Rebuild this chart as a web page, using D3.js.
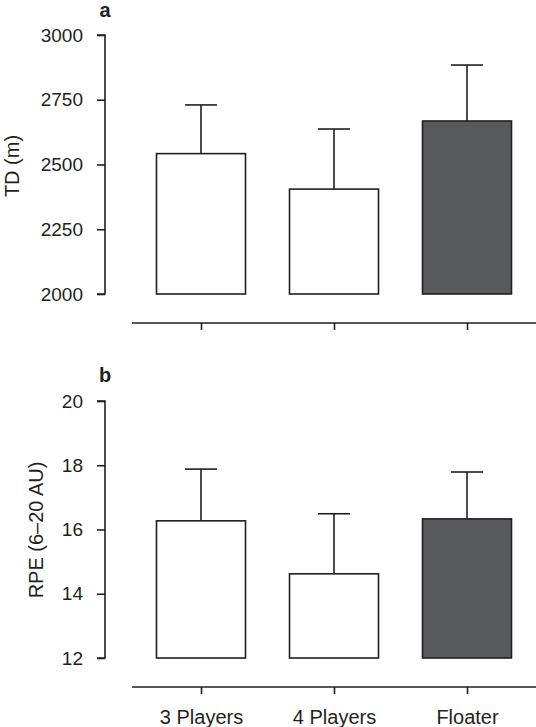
<!DOCTYPE html>
<html>
<head>
<meta charset="utf-8">
<script src="https://cdn.jsdelivr.net/npm/d3@7"></script>
<style>
  body { margin: 0; background: #fff; }
  svg text { font-family: "Liberation Sans", Arial, Helvetica, sans-serif; fill: #231f20; }
</style>
</head>
<body>
<svg id="chart"></svg>
<script>
const categories = ["3 Players", "4 Players", "Floater"];
const fills = ["#ffffff", "#ffffff", "#58595b"];

// panel a: total distance
const tdMean = [2542, 2405, 2668];
const tdSd = [188, 232, 216];
const tdTicks = [2000, 2250, 2500, 2750, 3000];

// panel b: RPE
const rpeMean = [16.27, 14.62, 16.33];
const rpeSd = [1.61, 1.87, 1.46];
const rpeTicks = [12, 14, 16, 18, 20];

const width = 536;
const height = 727;
const ink = "#231f20";

const svg = d3.select("#chart").attr("width", width).attr("height", height);

const x = d3.scalePoint().domain(categories).range([201, 467]);
const barW = 89;

function drawPanel(opts) {
    const g = svg.append("g");
    const y = d3.scaleLinear().domain(opts.domain).range(opts.range);

    // y axis
    const yAxis = g.append("g")
        .attr("transform", "translate(105,0)")
        .call(d3.axisLeft(y).tickValues(opts.ticks).tickSize(8).tickPadding(14).tickFormat(d3.format("d")));
    yAxis.select(".domain").attr("stroke", ink).attr("stroke-width", 1.6)
        .attr("d", `M-8,${y(opts.domain[1])}H0V${y(opts.domain[0])}H-8`);
    yAxis.selectAll(".tick line").attr("stroke", ink).attr("stroke-width", 1.6);
    yAxis.selectAll(".tick text").attr("font-size", 19).attr("fill", ink)
        .style("font-family", "'Liberation Sans', Arial, sans-serif");

    // x axis
    const xAxis = g.append("g")
        .attr("transform", `translate(0,${opts.xAxisY})`)
        .call(d3.axisBottom(x).tickSize(7).tickPadding(16));
    xAxis.select(".domain").attr("stroke", ink).attr("stroke-width", 1.6)
        .attr("d", `M132,0H536`);
    xAxis.selectAll(".tick line").attr("stroke", ink).attr("stroke-width", 1.6);
    xAxis.selectAll(".tick text").attr("font-size", 20).attr("fill", ink)
        .style("font-family", "'Liberation Sans', Arial, sans-serif")
        .style("display", opts.showX ? null : "none");

    // error bars (upper only)
    const errs = g.selectAll(".err").data(categories).join("g").attr("class", "err");
    errs.append("line")
        .attr("x1", d => x(d)).attr("x2", d => x(d))
        .attr("y1", (d, i) => y(opts.mean[i]))
        .attr("y2", (d, i) => y(opts.mean[i] + opts.sd[i]))
        .attr("stroke", ink).attr("stroke-width", 1.6);
    errs.append("line")
        .attr("x1", d => x(d) - 16).attr("x2", d => x(d) + 16)
        .attr("y1", (d, i) => y(opts.mean[i] + opts.sd[i]))
        .attr("y2", (d, i) => y(opts.mean[i] + opts.sd[i]))
        .attr("stroke", ink).attr("stroke-width", 1.6);

    // bars
    g.selectAll(".bar").data(categories).join("rect")
        .attr("class", "bar")
        .attr("x", d => x(d) - barW / 2)
        .attr("width", barW)
        .attr("y", (d, i) => y(opts.mean[i]))
        .attr("height", (d, i) => y(opts.domain[0]) - y(opts.mean[i]))
        .attr("fill", (d, i) => fills[i])
        .attr("stroke", ink).attr("stroke-width", 1.6);

    // y label
    g.append("text")
        .attr("transform", `translate(${opts.labelX},${opts.labelY}) rotate(-90)`)
        .attr("text-anchor", "middle")
        .attr("font-size", 20)
        .text(opts.yLabel);

    // panel letter
    g.append("text")
        .attr("x", 105).attr("y", opts.letterY)
        .attr("text-anchor", "middle")
        .attr("font-size", 20).attr("font-weight", "bold")
        .text(opts.letter);
}

drawPanel({
    domain: [2000, 3000], range: [294, 35], ticks: tdTicks,
    mean: tdMean, sd: tdSd, xAxisY: 323, showX: false,
    yLabel: "TD (m)", labelX: 19, labelY: 166, letter: "a", letterY: 17
});

drawPanel({
    domain: [12, 20], range: [658, 401], ticks: rpeTicks,
    mean: rpeMean, sd: rpeSd, xAxisY: 687, showX: true,
    yLabel: "RPE (6\u201320 AU)", labelX: 43, labelY: 530, letter: "b", letterY: 382
});
</script>
</body>
</html>
